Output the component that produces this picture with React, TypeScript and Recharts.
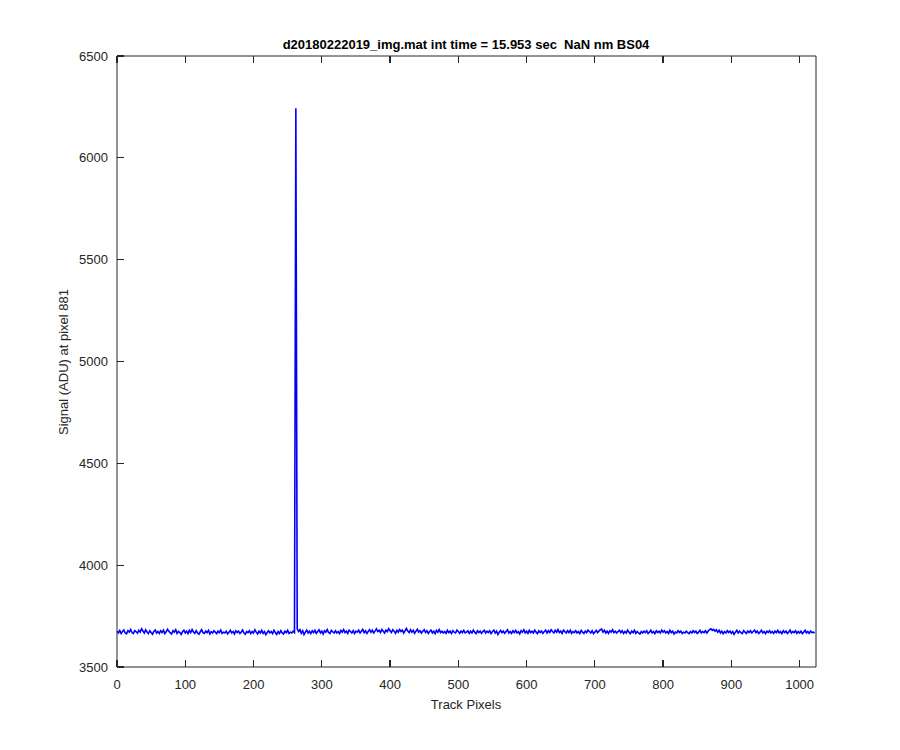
import { LineChart, Line, XAxis, YAxis } from "recharts";

// detector signal, sampled every 2nd track pixel (0..1022)
const pixelStep = 2;
const signal = [
  3676, 3668, 3679, 3665, 3674, 3682, 3667, 3663, 3678, 3671, 3684, 3669, 3664, 3679, 3673, 3666,
  3680, 3671, 3688, 3677, 3667, 3683, 3672, 3664, 3678, 3669, 3661, 3675, 3682, 3667, 3674, 3665,
  3678, 3669, 3681, 3664, 3673, 3685, 3676, 3667, 3662, 3678, 3671, 3683, 3665, 3675, 3669, 3660,
  3673, 3681, 3667, 3676, 3664, 3680, 3669, 3684, 3672, 3665, 3678, 3667, 3661, 3673, 3683, 3669,
  3665, 3676, 3669, 3680, 3662, 3673, 3667, 3678, 3671, 3664, 3676, 3669, 3681, 3665, 3671, 3667,
  3676, 3663, 3671, 3680, 3667, 3674, 3662, 3678, 3669, 3676, 3665, 3671, 3682, 3667, 3661, 3674,
  3669, 3678, 3664, 3674, 3667, 3683, 3671, 3662, 3676, 3667, 3680, 3665, 3674, 3659, 3669, 3678,
  3667, 3674, 3664, 3680, 3669, 3660, 3674, 3665, 3678, 3667, 3662, 3676, 3669, 3680, 3665, 3671,
  3667, 3676, 3669, 6243, 3688, 3674, 3683, 3665, 3678, 3659, 3671, 3681, 3667, 3676, 3664, 3678,
  3669, 3680, 3665, 3674, 3683, 3667, 3676, 3662, 3678, 3671, 3684, 3669, 3664, 3680, 3673, 3667,
  3678, 3667, 3674, 3664, 3680, 3671, 3684, 3669, 3676, 3665, 3681, 3674, 3667, 3678, 3664, 3676,
  3671, 3681, 3667, 3676, 3685, 3669, 3678, 3665, 3674, 3683, 3671, 3680, 3667, 3676, 3687, 3674,
  3680, 3669, 3684, 3676, 3667, 3681, 3674, 3688, 3678, 3669, 3683, 3676, 3665, 3680, 3671, 3684,
  3674, 3681, 3667, 3678, 3689, 3676, 3669, 3683, 3671, 3680, 3665, 3676, 3685, 3671, 3678, 3667,
  3676, 3683, 3669, 3678, 3665, 3674, 3681, 3667, 3676, 3664, 3680, 3671, 3684, 3669, 3676, 3667,
  3674, 3665, 3680, 3669, 3676, 3664, 3678, 3671, 3667, 3681, 3674, 3665, 3676, 3669, 3680, 3667,
  3671, 3678, 3665, 3676, 3667, 3681, 3671, 3664, 3678, 3669, 3676, 3665, 3674, 3680, 3667, 3676,
  3669, 3678, 3664, 3674, 3681, 3667, 3676, 3660, 3671, 3680, 3669, 3676, 3665, 3674, 3683, 3667,
  3674, 3665, 3678, 3669, 3680, 3667, 3674, 3662, 3678, 3671, 3683, 3667, 3676, 3665, 3680, 3669,
  3676, 3667, 3681, 3671, 3664, 3678, 3669, 3676, 3665, 3674, 3681, 3667, 3678, 3669, 3683, 3674,
  3667, 3680, 3671, 3684, 3669, 3676, 3665, 3681, 3674, 3667, 3678, 3669, 3680, 3665, 3674, 3669,
  3678, 3667, 3674, 3664, 3680, 3671, 3665, 3676, 3669, 3681, 3674, 3667, 3678, 3664, 3671, 3680,
  3669, 3676, 3683, 3686, 3671, 3680, 3667, 3676, 3665, 3678, 3671, 3683, 3669, 3676, 3667, 3674,
  3680, 3669, 3678, 3665, 3674, 3667, 3681, 3671, 3664, 3676, 3669, 3680, 3665, 3674, 3667, 3662,
  3674, 3667, 3676, 3669, 3678, 3665, 3671, 3680, 3667, 3674, 3664, 3678, 3669, 3676, 3667, 3681,
  3671, 3678, 3667, 3674, 3665, 3680, 3669, 3676, 3662, 3671, 3667, 3678, 3669, 3676, 3665, 3671,
  3667, 3676, 3669, 3664, 3674, 3667, 3678, 3669, 3676, 3665, 3671, 3680, 3667, 3674, 3669, 3678,
  3667, 3676, 3684, 3688, 3680, 3685, 3676, 3683, 3671, 3680, 3667, 3676, 3664, 3674, 3667, 3678,
  3669, 3676, 3665, 3674, 3660, 3671, 3680, 3667, 3676, 3669, 3664, 3678, 3671, 3665, 3676, 3669,
  3678, 3667, 3674, 3681, 3669, 3676, 3665, 3671, 3680, 3667, 3674, 3664, 3676, 3669, 3678, 3667,
  3674, 3665, 3676, 3669, 3680, 3667, 3674, 3664, 3678, 3669, 3676, 3665, 3671, 3681, 3667, 3674,
  3669, 3678, 3665, 3674, 3667, 3676, 3664, 3671, 3680, 3667, 3674, 3665, 3676, 3669, 3671, 3667,
];

const xTicks = [0, 100, 200, 300, 400, 500, 600, 700, 800, 900, 1000];
const yTicks = [3500, 4000, 4500, 5000, 5500, 6000, 6500];

const title = "d20180222019_img.mat int time = 15.953 sec  NaN nm BS04";
const xLabel = "Track Pixels";
const yLabel = "Signal (ADU) at pixel 881";

const data = signal.map((v, i) => ({ pixel: i * pixelStep, signal: v }));

const ink = "#262626";
const font = "'Liberation Sans', Arial, Helvetica, sans-serif";
const tickLen = 7;

// labels sit outside the box, tick marks point inward (MATLAB style)
const BottomTick = ({ x, y, payload }: any) => (
  <g>
    <path d={`M${x},${y}V${y - tickLen}`} stroke={ink} strokeWidth={1.2} fill="none" shapeRendering="crispEdges" />
    <text x={x} y={y + 22} textAnchor="middle" fontSize={13} fontFamily={font} fill={ink}>
      {payload.value}
    </text>
  </g>
);

const LeftTick = ({ x, y, payload }: any) => (
  <g>
    <path d={`M${x},${y}H${x + tickLen}`} stroke={ink} strokeWidth={1.2} fill="none" shapeRendering="crispEdges" />
    <text x={x - 9} y={y + 4.5} textAnchor="end" fontSize={13} fontFamily={font} fill={ink}>
      {payload.value}
    </text>
  </g>
);

const TopTick = ({ x, y }: any) => (
  <path d={`M${x},${y}V${y + tickLen}`} stroke={ink} strokeWidth={1.2} fill="none" shapeRendering="crispEdges" />
);

const RightTick = ({ x, y }: any) => (
  <path d={`M${x},${y}H${x - tickLen}`} stroke={ink} strokeWidth={1.2} fill="none" shapeRendering="crispEdges" />
);

export default function App() {
  return (
    <div style={{ position: "absolute", left: 0, top: 0, width: 900, height: 750, background: "#fff" }}>
      <LineChart
        width={900}
        height={750}
        data={data}
        margin={{ top: 52, right: 80, bottom: 53, left: 57 }}
      >
        <XAxis
          xAxisId="bottom"
          dataKey="pixel"
          type="number"
          domain={[0, 1024]}
          ticks={xTicks}
          interval={0}
          height={30}
          tickSize={0}
          tickMargin={0}
          tickLine={false}
          axisLine={{ stroke: ink }}
          tick={<BottomTick />}
        />
        <XAxis
          xAxisId="top"
          orientation="top"
          dataKey="pixel"
          type="number"
          domain={[0, 1024]}
          ticks={xTicks}
          interval={0}
          height={4}
          tickSize={0}
          tickMargin={0}
          tickLine={false}
          axisLine={{ stroke: ink }}
          tick={<TopTick />}
        />
        <YAxis
          yAxisId="left"
          type="number"
          domain={[3500, 6500]}
          ticks={yTicks}
          interval={0}
          width={60}
          tickSize={0}
          tickMargin={0}
          tickLine={false}
          axisLine={{ stroke: ink }}
          tick={<LeftTick />}
        />
        <YAxis
          yAxisId="right"
          orientation="right"
          type="number"
          domain={[3500, 6500]}
          ticks={yTicks}
          interval={0}
          width={4}
          tickSize={0}
          tickMargin={0}
          tickLine={false}
          axisLine={{ stroke: ink }}
          tick={<RightTick />}
        />
        <Line
          xAxisId="bottom"
          yAxisId="left"
          dataKey="signal"
          type="linear"
          stroke="#0000ff"
          strokeWidth={1.6}
          dot={false}
          isAnimationActive={false}
        />
      </LineChart>
      <svg
        width={900}
        height={750}
        style={{ position: "absolute", left: 0, top: 0, pointerEvents: "none" }}
      >
        <text
          x={466}
          y={49}
          textAnchor="middle"
          fontSize={13}
          fontWeight="bold"
          fontFamily={font}
          fill="#000"
          style={{ whiteSpace: "pre" }}
        >
          {title}
        </text>
        <text x={466} y={709} textAnchor="middle" fontSize={13} fontFamily={font} fill={ink}>
          {xLabel}
        </text>
        <text
          x={68}
          y={362}
          textAnchor="middle"
          fontSize={13}
          fontFamily={font}
          fill={ink}
          transform="rotate(-90 68 362)"
        >
          {yLabel}
        </text>
      </svg>
    </div>
  );
}
